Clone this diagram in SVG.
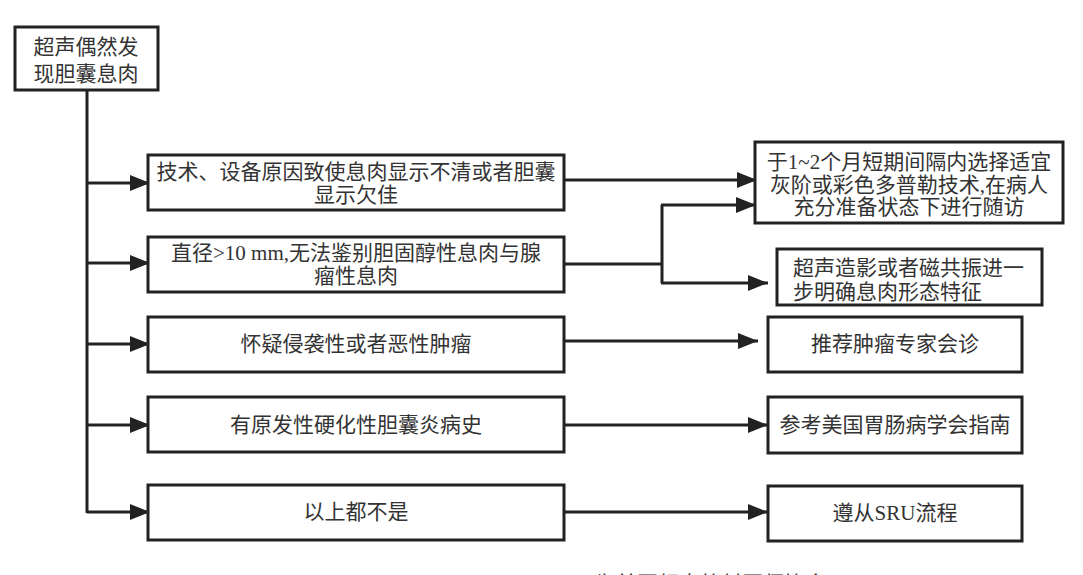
<svg xmlns="http://www.w3.org/2000/svg" width="1083" height="575" viewBox="0 0 1083 575">
<defs>
<marker id="ah" markerUnits="userSpaceOnUse" markerWidth="20" markerHeight="16" refX="20" refY="8" orient="auto">
<path d="M0,0 L20,8 L0,16 z" fill="#222"/>
</marker>
<style>
.box{fill:#fff;stroke:#222;stroke-width:3}
.t{font-family:"Liberation Serif","Noto Sans CJK SC",serif;font-size:21px;fill:#333}
.c{text-anchor:middle}
.ln{fill:none;stroke:#222;stroke-width:3}
.ar{fill:none;stroke:#222;stroke-width:3;marker-end:url(#ah)}
</style>
</defs>
<rect width="1083" height="575" fill="#fff"/>
<g id="connectors">
<path class="ln" d="M87,90 V513"/>
<path class="ar" d="M87,183 H150"/>
<path class="ar" d="M87,263 H150"/>
<path class="ar" d="M87,344 H150"/>
<path class="ar" d="M87,425 H150"/>
<path class="ar" d="M87,512 H150"/>
<path class="ar" d="M564,180 H757"/>
<path class="ln" d="M564,264 H662 M662,205 V283"/>
<path class="ar" d="M661,205 H756"/>
<path class="ar" d="M661,283 H768"/>
<path class="ar" d="M564,341 H758"/>
<path class="ar" d="M564,425 H768"/>
<path class="ar" d="M564,512 H768"/>
</g>
<g id="root">
<rect class="box" x="15" y="27" width="143" height="63"/>
<text class="t c" x="86" y="54">超声偶然发</text>
<text class="t c" x="86" y="81">现胆囊息肉</text>
</g>
<g id="c1">
<rect class="box" x="148" y="155" width="416" height="55"/>
<text class="t c" x="356" y="179">技术、设备原因致使息肉显示不清或者胆囊</text>
<text class="t c" x="356" y="202">显示欠佳</text>
</g>
<g id="c2">
<rect class="box" x="148" y="237" width="416" height="55"/>
<text class="t c" x="356" y="260">直径&gt;10 mm,无法鉴别胆固醇性息肉与腺</text>
<text class="t c" x="356" y="283">瘤性息肉</text>
</g>
<g id="c3">
<rect class="box" x="148" y="317" width="416" height="55"/>
<text class="t c" x="356" y="351">怀疑侵袭性或者恶性肿瘤</text>
</g>
<g id="c4">
<rect class="box" x="148" y="397" width="416" height="55"/>
<text class="t c" x="356" y="432">有原发性硬化性胆囊炎病史</text>
</g>
<g id="c5">
<rect class="box" x="148" y="485" width="416" height="55"/>
<text class="t c" x="356" y="519">以上都不是</text>
</g>
<g id="r1">
<rect class="box" x="755" y="142" width="308" height="81"/>
<text class="t c" x="909" y="169">于1~2个月短期间隔内选择适宜</text>
<text class="t c" x="909" y="192">灰阶或彩色多普勒技术,在病人</text>
<text class="t c" x="909" y="214">充分准备状态下进行随访</text>
</g>
<g id="r2">
<rect class="box" x="777" y="249" width="265" height="56"/>
<text class="t" x="793" y="275">超声造影或者磁共振进一</text>
<text class="t" x="793" y="299">步明确息肉形态特征</text>
</g>
<g id="r3">
<rect class="box" x="768" y="317" width="254" height="55"/>
<text class="t c" x="895" y="351">推荐肿瘤专家会诊</text>
</g>
<g id="r4">
<rect class="box" x="768" y="397" width="254" height="56"/>
<text class="t c" x="895" y="432">参考美国胃肠病学会指南</text>
</g>
<g id="r5">
<rect class="box" x="768" y="486" width="254" height="55"/>
<text class="t c" x="895" y="520">遵从SRU流程</text>
</g>
<g id="caption">
<text class="t" x="280" y="591">(</text>
<text class="t" x="588" y="591">)为美国超声放射医师协会</text>
</g>
</svg>
